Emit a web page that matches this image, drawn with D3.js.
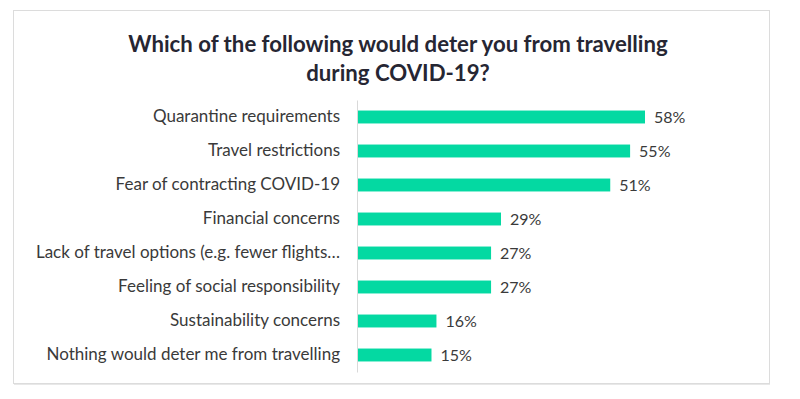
<!DOCTYPE html>
<html>
<head>
<meta charset="utf-8">
<script src="https://cdn.jsdelivr.net/npm/d3@7"></script>
<style>
  body { margin: 0; background: #fff; }
  svg { display: block; font-family: Lato, "Open Sans", sans-serif; }
</style>
</head>
<body>
<div id="chart"></div>
<script>
// survey answers, top to bottom
var categories = [
  "Quarantine requirements",
  "Travel restrictions",
  "Fear of contracting COVID-19",
  "Financial concerns",
  "Lack of travel options (e.g. fewer flights\u2026",
  "Feeling of social responsibility",
  "Sustainability concerns",
  "Nothing would deter me from travelling"
];
var values = [58, 55, 51, 29, 27, 27, 16, 15];
var titleLines = ["Which of the following would deter you from travelling", "during COVID-19?"];

var width = 800, height = 399,
    margin = { top: 100, right: 100, bottom: 27, left: 357 };

var svg = d3.select("#chart").append("svg")
    .attr("width", width)
    .attr("height", height);

// card frame
svg.append("rect")
    .attr("x", 13.5).attr("y", 10.5)
    .attr("width", 756).attr("height", 373)
    .attr("fill", "#fff")
    .attr("stroke", "#dcdcdc");
svg.append("line")
    .attr("x1", 14).attr("x2", 770)
    .attr("y1", 384.5).attr("y2", 384.5)
    .attr("stroke", "#e8e8e8");

svg.append("g").selectAll("text")
    .data(titleLines)
    .enter().append("text")
    .attr("x", 398)
    .attr("y", (d, i) => 52 + i * 29)
    .attr("text-anchor", "middle")
    .attr("font-size", "22.2px")
    .attr("font-weight", "bold")
    .attr("fill", "#262633")
    .text(d => d);

var x = d3.scaleLinear()
    .domain([0, 58])
    .range([0, 288]);

var y = d3.scaleBand()
    .domain(categories)
    .range([0, 372 - margin.top])
    .paddingInner(0.62)
    .paddingOuter(0.31);

var g = svg.append("g")
    .attr("transform", "translate(" + margin.left + "," + margin.top + ")");

g.selectAll("rect.bar")
    .data(values)
    .enter().append("rect")
    .attr("class", "bar")
    .attr("x", 0)
    .attr("y", (d, i) => y(categories[i]))
    .attr("width", d => x(d))
    .attr("height", y.bandwidth())
    .attr("fill", "#04d9a2");

g.selectAll("text.val")
    .data(values)
    .enter().append("text")
    .attr("class", "val")
    .attr("x", d => x(d) + 9)
    .attr("y", (d, i) => y(categories[i]) + y.bandwidth() / 2)
    .attr("dy", "0.37em")
    .attr("font-size", "16px")
    .attr("fill", "#3a3a3a")
    .text(d => d + "%");

var axis = g.append("g")
    .call(d3.axisLeft(y).tickSize(0).tickPadding(17));
axis.select(".domain").attr("stroke", "#d9d9d9");
axis.selectAll("text")
    .attr("font-size", "17px")
    .attr("font-family", "Lato, 'Open Sans', sans-serif")
    .attr("fill", "#3a3a3a");
</script>
</body>
</html>
